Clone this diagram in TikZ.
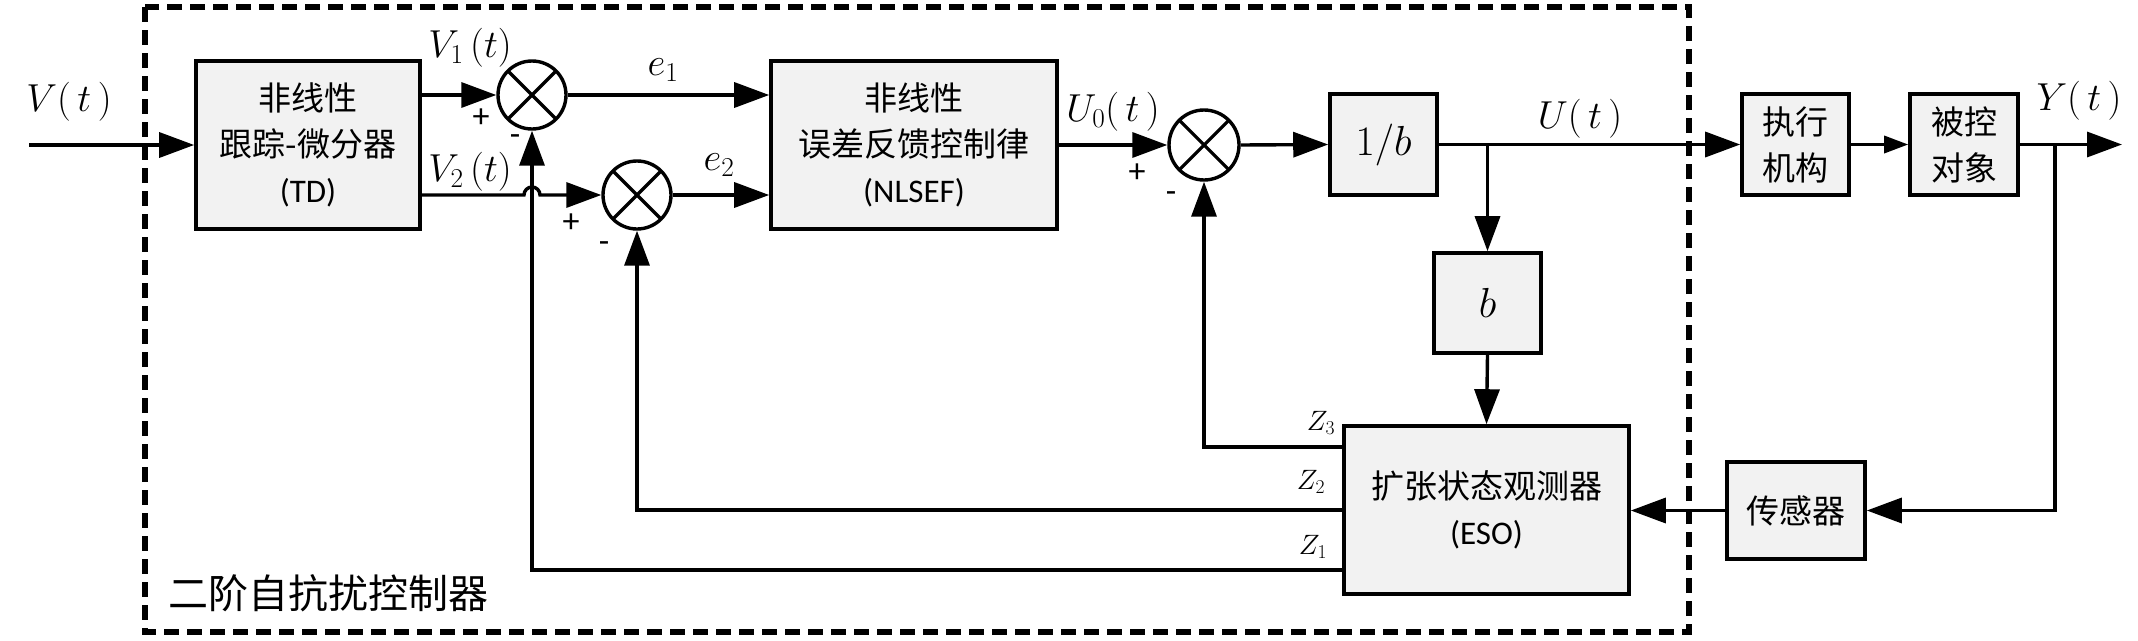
\documentclass[tikz,border=0pt]{standalone}
\usepackage{fix-cm}
\usepackage{fontspec}
\newfontfamily\cjk{Noto Sans CJK SC}
\newfontfamily\lat{Carlito}
\usetikzlibrary{arrows.meta,calc}
\definecolor{boxgray}{HTML}{F2F2F2}
\begin{document}
\begin{tikzpicture}[x=1pt,y=-1pt,
  box/.style={draw=black,line width=3.6pt,fill=boxgray,inner sep=0pt,align=center,
    font=\cjk\fontsize{33}{46}\selectfont},
  sumnode/.style={draw=black,circle,line width=3.4pt,minimum size=#1,inner sep=0pt,
    path picture={\draw[line width=3.2pt] (path picture bounding box.north west) -- (path picture bounding box.south east)
      (path picture bounding box.north east) -- (path picture bounding box.south west);}},
  conn/.style={line width=3.4pt},
  arr/.style={conn,-{Triangle[length=35pt,width=25pt]}},
  sarr/.style={conn,-{Triangle[length=24pt,width=17pt]}},
  mlbl/.style={inner sep=0pt,font=\fontsize{39}{42}\selectfont},
  zlbl/.style={inner sep=0pt,font=\fontsize{28}{30}\selectfont},
  sgn/.style={inner sep=0pt,font=\lat\fontsize{34}{36}\selectfont},
  outline/.style={line width=6.5pt,dash pattern=on 15pt off 8pt}
]
\useasboundingbox (0,0) rectangle (2138,640);

% controller frame
\draw[outline] (145,7) rectangle (1689,632);
\node[inner sep=0pt,font=\cjk\fontsize{40}{44}\selectfont] (ttl) at (328,593) {二阶自抗扰控制器};

% blocks
\node[box,minimum width=224pt,minimum height=168pt] (td) at (308,145) {非线性\\跟踪-微分器\\{\lat (TD)}};
\node[box,minimum width=286pt,minimum height=168pt] (nl) at (914,145) {非线性\\误差反馈控制律\\{\lat (NLSEF)}};
\node[box,minimum width=107pt,minimum height=101pt,font=\fontsize{42}{46}\selectfont] (inv) at (1383.5,144.5) {$1/b$};
\node[box,minimum width=107pt,minimum height=100pt,font=\fontsize{42}{46}\selectfont] (bb) at (1487.5,303) {$b$};
\node[box,minimum width=285pt,minimum height=168pt] (eso) at (1486.5,510) {扩张状态观测器\\{\lat (ESO)}};
\node[box,minimum width=107pt,minimum height=101pt] (act) at (1795.5,144.5) {执行\\机构};
\node[box,minimum width=108pt,minimum height=101pt] (plant) at (1964,144.5) {被控\\对象};
\node[box,minimum width=138pt,minimum height=97pt] (sens) at (1796,510.5) {传感器};

% summing junctions
\node[sumnode=68pt] (s1) at (532,95) {};
\node[sumnode=68pt] (s2) at (637,195) {};
\node[sumnode=70pt] (s3) at (1204,145) {};

% forward path
\coordinate (vin) at (29,145);
\draw[arr] (vin) -- (td.west);
\draw[arr] (td.east |- s1) -- (s1.west);
\draw[arr] (td.east |- s2) -- ($(s1 |- s2)+(-8,0)$) arc[start angle=180,end angle=0,radius=8pt] -- (s2.west);
\draw[arr] (s1.east) -- (s1.east -| nl.west);
\draw[arr] (s2.east) -- (s2.east -| nl.west);
\draw[arr] (nl.east) -- (s3.west);
\draw[arr] (s3.east) -- (inv.west);
\draw[arr] (inv.east) -- (act.west);
\coordinate (br1) at (bb.north |- inv.east);
\draw[arr] (br1) -- (bb.north);
\draw[arr] (bb.south) -- (eso.north);
\draw[sarr] (act.east) -- (plant.west);
\coordinate (yout) at (2122,144.5);
\draw[arr] (plant.east) -- (yout);

% measurement feedback
\coordinate (br2) at (2055,144.5);
\draw[arr] (br2) |- (sens.east);
\draw[arr] (sens.west) -- (sens.west -| eso.east);

% observer outputs
\draw[arr] ($(eso.west)+(0,-63)$) -| (s3.south);
\draw[arr] (eso.west) -| (s2.south);
\draw[arr] ($(eso.west)+(0,60)$) -| (s1.south);

% labels
\node[mlbl] (lv) at (69,102) {$V(\,t\,)$};
\node[mlbl] (lv1) at (470,48) {$V_1\,(t)$};
\node[mlbl] (lv2) at (470,172) {$V_2\,(t)$};
\node[mlbl] (le1) at (663,70) {$e_1$};
\node[mlbl] (le2) at (719,165) {$e_2$};
\node[mlbl] (lu0) at (1113,112) {$U_0(\,t\,)$};
\node[mlbl] (lu) at (1580,119) {$U(\,t\,)$};
\node[mlbl] (ly) at (2079,101) {$Y(\,t\,)$};
\node[zlbl] (lz3) at (1321,423) {$Z_3$};
\node[zlbl] (lz2) at (1311,482) {$Z_2$};
\node[zlbl] (lz1) at (1313,547) {$Z_1$};

\node[sgn] (p1) at (481,118) {+};
\node[sgn] (m1) at (515,140) {-};
\node[sgn] (p2) at (571,223) {+};
\node[sgn] (m2) at (604,247) {-};
\node[sgn] (p3) at (1137,173) {+};
\node[sgn] (m3) at (1171,197) {-};
\end{tikzpicture}
\end{document}
